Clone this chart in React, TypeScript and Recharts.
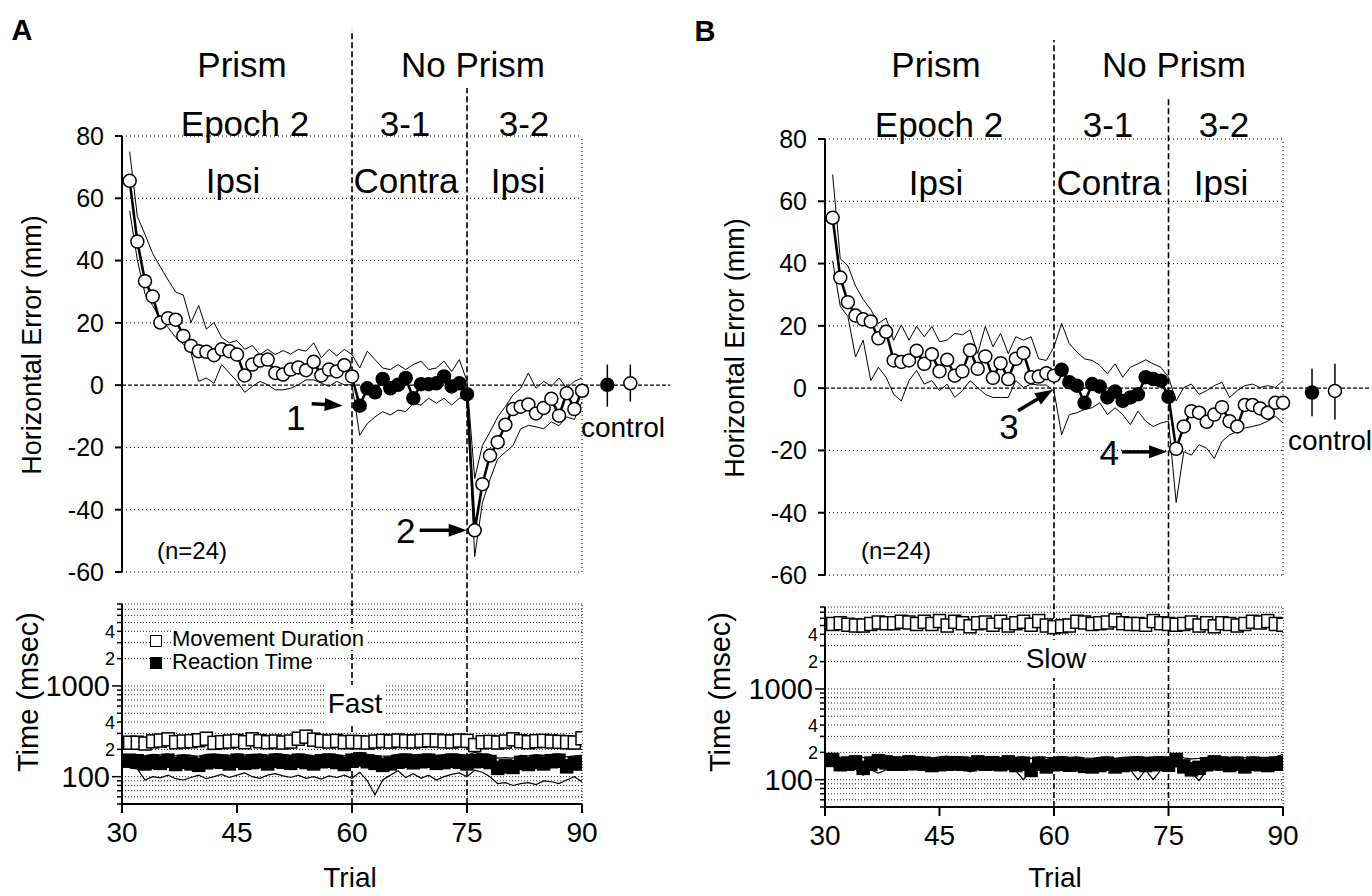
import React from 'react';
import { ComposedChart, Line, XAxis, YAxis, ReferenceLine, ReferenceDot, CartesianGrid } from 'recharts';

const FONT = "'Liberation Sans', Arial, Helvetica, sans-serif";
const H = 896;

const firstTrial = 31;
const errTicks = [-60, -40, -20, 0, 20, 40, 60, 80];
const trialTicks = [30, 45, 60, 75, 90];
const timeTicks = [50, 60, 70, 80, 90, 100, 200, 300, 400, 500, 600, 700, 800, 900, 1000, 2000, 3000, 4000, 5000, 6000, 7000, 8000];
const timeLabels: Record<number, string> = { 100: '100', 200: '2', 400: '4', 1000: '1000', 2000: '2', 4000: '4' };

// ---- Panel A: horizontal error (mm) ----
const errPrismA = [65.6, 46.1, 33.4, 28.5, 20.1, 21.5, 21, 15.8, 12.6, 10.9, 10.7, 9.6, 11.5, 10.9, 9.8, 3.1, 6.6, 7.9, 8.2, 3.9, 3.4, 5, 5.7, 4.8, 7.5, 3.1, 5, 4.4, 6.4, 2.8];
const errContraA = [-6.6, -1, -2.3, 2, -1, 0.1, 2.3, -4.2, 0.3, 0.3, 0.6, 2.8, -0.4, 0.6, -2.9];
const errIpsiA = [-46.6, -31.8, -22.6, -18.3, -12.7, -7.7, -6.9, -6.2, -9.1, -7.3, -4.4, -9.8, -2.6, -7.7, -1.8];
const errUpperA = [
  75, 54.2, 48.4, 42.3, 38, 33.8, 29.9, 28.9, 20.1, 25.6, 18, 20.1, 15.3, 13.6, 14.3, 11.5, 12.7, 9.8, 11.5, 9.8, 11.1, 10, 11.5, 10.9, 13.6, 8.8, 11.5, 9.4, 11.5, 9.8,
  5.5, 10.9, 8.2, 5.5, 5, 6.6, 5, 6.6, 7.7, 5, 5.5, 7.7, 4.4, 8.2, 1.2,
  -30, -19.4, -15, -10.2, -6.9, -3.1, -1, 3.9, -1, 1.2, -0.4, 2.3, -1, 1.2, 2.3,
];
const errLowerA = [
  56, 40.2, 29.3, 25.6, 21.2, 18.5, 15.3, 13.1, 10.4, 1.2, 2.3, 0.6, 6.6, 3.9, 1.2, -2.3, -0.4, 1.2, 0.1, -1.5, -1.5, -1, 0.1, 1.7, 1.7, 0.6, -0.4, 1.2, 0.1, 0.1,
  -16.1, -12.3, -10.2, -8.5, -9.6, -8, -8.5, -5.8, -6.4, -4.2, -5.8, -4.2, -6.4, -4.2, -4.2,
  -55, -37.8, -30.2, -23.7, -21.5, -19.4, -14, -12.9, -13.4, -14, -11.8, -13, -10.2, -11, -5.3,
];
const controlA = [
  { x: 93.3, y: 0.1, hi: 6.6, lo: -6.9, filled: true },
  { x: 96.3, y: 0.6, hi: 6.6, lo: -5.3, filled: false },
];

// ---- Panel A: time (msec) ----
const movementA = [
  237, 237, 232, 245, 250, 258, 240, 244, 246, 252, 262, 236, 240, 244, 248, 240, 258, 246, 240, 244, 238, 244, 262, 276, 256, 248, 244, 248, 240, 242,
  240, 238, 244, 248, 244, 250, 246, 244, 248, 252, 250, 246, 244, 250, 248, 223, 240, 242, 238, 244, 258, 246, 240, 246, 248, 244, 242, 240, 238, 265,
];
const reactionA = [
  150, 148, 140, 145, 142, 150, 138, 146, 140, 135, 144, 148, 146, 140, 150, 142, 145, 148, 140, 150, 146, 142, 150, 145, 140, 148, 150, 145, 138, 150,
  155, 148, 142, 135, 140, 146, 150, 144, 148, 150, 142, 145, 150, 146, 140, 148, 150, 145, 125, 130, 128, 142, 138, 145, 140, 148, 150, 130, 140, 140,
];
const reactionUpperA = [
  175, 172, 170, 176, 174, 178, 170, 175, 172, 168, 176, 178, 175, 172, 178, 174, 176, 178, 172, 180, 176, 172, 178, 175, 170, 176, 178, 175, 170, 178,
  185, 176, 172, 168, 170, 176, 178, 174, 176, 178, 172, 175, 178, 176, 172, 185, 178, 175, 160, 162, 160, 172, 170, 175, 172, 176, 178, 165, 170, 172,
];
const reactionLowerA = [
  124, 122, 92, 100, 97, 104, 95, 92, 98, 104, 95, 100, 106, 98, 104, 110, 100, 96, 104, 108, 102, 98, 104, 96, 100, 94, 102, 98, 104, 96,
  112, 90, 63, 92, 104, 116, 98, 108, 96, 104, 92, 100, 106, 110, 100, 118, 112, 100, 84, 86, 80, 84, 86, 82, 90, 88, 84, 92, 100, 88,
];

// ---- Panel B: horizontal error (mm) ----
const errPrismB = [54.7, 35.5, 27.6, 23.3, 22.1, 21.4, 16, 18.1, 8.9, 8.4, 8.9, 12, 7.8, 10.9, 5.4, 9.1, 4, 5.4, 12.2, 6.2, 10.2, 3.3, 8, 2.9, 9.4, 11.3, 3.5, 3.7, 4.8, 4];
const errContraB = [5.9, 1.9, 0.8, -4.7, 1.3, 0.5, -3, -1.1, -4.1, -3, -2, 3.5, 2.9, 2.4, -2.8];
const errIpsiB = [-19.5, -12.3, -7.4, -7.9, -10.8, -8.5, -6.1, -10.6, -12.3, -5.4, -5.4, -6.5, -7.9, -4.7, -4.7];
const errUpperB = [
  68.6, 41.5, 39.3, 32.8, 28.5, 25.2, 20.8, 22.5, 15.4, 20.3, 15.4, 19.8, 16.5, 19.8, 14.9, 15.4, 17.6, 17.1, 18.7, 11.1, 19.8, 13.3, 17.6, 11.1, 16.5, 15.4, 16.5, 9.4, 8.9, 13.3,
  20.8, 14.3, 11.6, 9.4, 8.9, 7.3, 4.6, 7.8, 3.5, 6.7, 7.8, 9.1, 7.8, 6.7, 3.5,
  -4.1, 0.2, 1.3, -2, -0.8, 0.8, 1.9, -3, -0.8, 0.8, 1.3, 0.2, 0.8, 0.2, 2.4,
];
const errLowerB = [
  40.9, 26.3, 23, 10, 15.4, 2.4, 6.7, 3.5, -2, -4.1, 2.4, 5.7, 1.3, 2.4, -0.8, 1.3, -3, -0.8, 2.4, 0.2, -2, -3, -3, -3, 2.4, 0.2, 1.3, 1, 1, -1,
  -15, -8.5, -7.9, -6.8, -6.3, -4.7, -8.5, -6.3, -8.5, -11.7, -7.4, -10.6, -12.3, -11.2, -10.6,
  -36.7, -20.4, -21.5, -18.2, -19.3, -22.6, -17.1, -15, -13.9, -12.8, -12.3, -11.7, -10.6, -9, -11.2,
];
const controlB = [
  { x: 93.8, y: -1.4, hi: 6.2, lo: -9, filled: true },
  { x: 96.8, y: -0.9, hi: 7.8, lo: -10.1, filled: false },
];

// ---- Panel B: time (msec) ----
const movementB = [
  5200, 5300, 5100, 5000, 5000, 5200, 5400, 5300, 5300, 5500, 5400, 5200, 5500, 5200, 5600, 5000, 5500, 5300, 4900, 5300, 5400, 5100, 5500, 5000, 5300, 5500, 5100, 5600, 5000, 4800,
  4900, 5000, 5500, 5400, 5200, 5300, 5400, 5700, 5300, 5200, 5200, 5100, 5600, 5300, 5200, 5100, 5200, 5400, 5000, 5300, 4900, 5300, 5200, 5000, 5200, 5500, 5400, 5600, 5200, 5100,
];
const reactionB = [
  165, 148, 150, 155, 135, 150, 160, 155, 150, 150, 155, 152, 150, 145, 148, 150, 152, 150, 148, 155, 150, 152, 148, 155, 145, 150, 128, 150, 140, 148,
  150, 146, 148, 142, 140, 145, 150, 140, 145, 148, 150, 145, 148, 150, 146, 165, 140, 130, 135, 148, 155, 150, 145, 150, 140, 150, 148, 145, 150, 152,
];
const reactionUpperB = [
  180, 176, 178, 182, 175, 178, 184, 180, 178, 176, 180, 178, 176, 174, 178, 182, 176, 178, 175, 180, 178, 176, 174, 180, 176, 178, 172, 178, 175, 176,
  180, 176, 178, 174, 172, 176, 178, 172, 176, 178, 180, 176, 178, 180, 176, 188, 174, 170, 172, 176, 180, 178, 176, 178, 174, 178, 176, 176, 178, 190,
];
const reactionLowerB = [
  140, 135, 130, 130, 112, 128, 118, 128, 132, 130, 128, 130, 132, 125, 128, 130, 128, 132, 122, 128, 130, 128, 126, 130, 125, 100, 128, 130, 126, 130,
  132, 128, 126, 128, 130, 126, 128, 126, 130, 128, 100, 128, 100, 128, 130, 140, 128, 120, 98, 126, 128, 130, 132, 130, 126, 128, 130, 132, 130, 140,
];

function buildErrorRows(prism: number[], contra: number[], ipsi: number[], up: number[], lo: number[]) {
  const mean = [...prism, ...contra, ...ipsi];
  return mean.map((m, i) => {
    const noPrism31 = i >= prism.length && i < prism.length + contra.length;
    return { trial: firstTrial + i, mean: m, open: noPrism31 ? null : m, filled: noPrism31 ? m : null, up: up[i], lo: lo[i] };
  });
}

function buildTimeRows(md: number[], rt: number[], rtUp: number[], rtLo: number[]) {
  return md.map((v, i) => ({ trial: firstTrial + i, md: v, rt: rt[i], rtUp: rtUp[i], rtLo: rtLo[i] }));
}

type Arrow = { x: number; y: number; label: string; tip: number[]; tail: number[]; num: number[] };

const panels = [
  {
    name: 'A',
    errRows: buildErrorRows(errPrismA, errContraA, errIpsiA, errUpperA, errLowerA),
    timeRows: buildTimeRows(movementA, reactionA, reactionUpperA, reactionLowerA),
    controls: controlA,
    arrows: [
      { x: 61, y: -6.6, label: '1', tip: [-17, 0], tail: [-31, -2], num: [-64, 12] },
      { x: 76, y: -46.6, label: '2', tip: [-8, 0], tail: [-47, 0], num: [-69, 0] },
    ] as Arrow[],
    lay: { left: 0, width: 700, errTop: 136, errBottom: 572, errRight: 29.8, timeTop: 604, timeBottom: 804, timeRight: 118, dividerTops: [114, 95.4] },
    texts: [
      { t: 'Prism', x: 242, y: 64 }, { t: 'Epoch 2', x: 245, y: 123 }, { t: 'No Prism', x: 473, y: 64 },
      { t: '3-1', x: 405, y: 123 }, { t: '3-2', x: 524, y: 123 }, { t: 'Ipsi', x: 233, y: 180 },
      { t: 'Contra', x: 406, y: 180 }, { t: 'Ipsi', x: 518, y: 180 },
    ],
    letter: { x: 22, y: 30 }, errTitle: { x: 32, y: 345 }, n: { x: 192, y: 551 }, control: { x: 623, y: 428 },
    timeTitle: { x: 28, y: 692 }, trial: { x: 350, y: 878 }, speed: { t: 'Fast', x: 355, y: 704 }, legend: true,
  },
  {
    name: 'B',
    errRows: buildErrorRows(errPrismB, errContraB, errIpsiB, errUpperB, errLowerB),
    timeRows: buildTimeRows(movementB, reactionB, reactionUpperB, reactionLowerB),
    controls: controlB,
    arrows: [
      { x: 60, y: 4, label: '3', tip: [-1, 14], tail: [-35, 21], num: [-45, 51] },
      { x: 76, y: -19.5, label: '4', tip: [-9, 3], tail: [-45, 0], num: [-67, 4] },
    ] as Arrow[],
    lay: { left: 703, width: 669, errTop: 139, errBottom: 575, errRight: 1.2, timeTop: 607, timeBottom: 807, timeRight: 89, dividerTops: [111.8, 93.5] },
    texts: [
      { t: 'Prism', x: 936, y: 64 }, { t: 'Epoch 2', x: 939, y: 124 }, { t: 'No Prism', x: 1174, y: 64 },
      { t: '3-1', x: 1108, y: 124 }, { t: '3-2', x: 1224, y: 124 }, { t: 'Ipsi', x: 936, y: 182 },
      { t: 'Contra', x: 1109, y: 182 }, { t: 'Ipsi', x: 1221, y: 182 },
    ],
    letter: { x: 705, y: 31 }, errTitle: { x: 735, y: 348 }, n: { x: 896, y: 551 }, control: { x: 1330, y: 441 },
    timeTitle: { x: 720, y: 692 }, trial: { x: 1055, y: 878 }, speed: { t: 'Slow', x: 1056, y: 659 }, legend: false,
  },
];

function arrowShape(a: Arrow) {
  return (p: any) => {
    const tx = p.cx + a.tip[0];
    const ty = p.cy + a.tip[1];
    const sx = tx + a.tail[0];
    const sy = ty + a.tail[1];
    const len = Math.hypot(tx - sx, ty - sy);
    const ux = (tx - sx) / len;
    const uy = (ty - sy) / len;
    const hl = 18;
    const hw = 6.5;
    const bx = tx - ux * hl;
    const by = ty - uy * hl;
    return (
      <g>
        <line x1={sx} y1={sy} x2={bx + ux} y2={by + uy} stroke="#000" strokeWidth={3.5} />
        <polygon points={`${tx},${ty} ${bx - uy * hw},${by + ux * hw} ${bx + uy * hw},${by - ux * hw}`} fill="#000" />
        <text x={p.cx + a.num[0]} y={p.cy + a.num[1]} dy="0.36em" textAnchor="middle" fontSize={35} fontFamily={FONT} fill="#000">
          {a.label}
        </text>
      </g>
    );
  };
}

function TimeTick({ x, y, payload }: any) {
  const v = payload.value;
  const label = timeLabels[v];
  const major = v === 100 || v === 1000;
  const len = major ? 10 : 5;
  return (
    <g>
      <line x1={x - len} y1={y} x2={x} y2={y} stroke="#000" strokeWidth={1.5} />
      {label && (
        <text x={x - len - 2} y={y} dy="0.36em" textAnchor="end" fontSize={major ? 29 : 18} fontFamily={FONT} fill="#000">
          {label}
        </text>
      )}
    </g>
  );
}

const squareDot = (fill: string) => (p: any) => (
  <rect key={`sq-${fill}-${p.index}`} x={p.cx - 6} y={p.cy - 6.5} width={12} height={13} fill={fill} stroke="#000" strokeWidth={1.5} />
);

function ErrorChart({ panel }: any) {
  const { lay, errRows, controls, arrows } = panel;
  return (
    <div style={{ position: 'absolute', left: lay.left, top: 0 }}>
      <ComposedChart width={lay.width} height={H} data={errRows}
        margin={{ top: lay.errTop, right: lay.errRight, bottom: H - lay.errBottom, left: 0 }}>
        <XAxis type="number" dataKey="trial" domain={[30, 101.5]} hide allowDataOverflow />
        <YAxis type="number" domain={[-60, 80]} ticks={errTicks} interval={0} width={122} allowDataOverflow
          axisLine={{ stroke: '#000', strokeWidth: 2 }} tickLine={{ stroke: '#000', strokeWidth: 2 }}
          tickSize={7} tickMargin={11} tick={{ fill: '#000', fontSize: 25, fontFamily: FONT }} />
        {errTicks.map((v) => (
          <ReferenceLine key={`g${v}`} ifOverflow="visible"
            segment={[{ x: 30, y: v }, { x: v === 0 ? 101.5 : 90, y: v }]}
            stroke="#000" strokeWidth={v === 0 ? 1.3 : 1} strokeDasharray={v === 0 ? '4 2' : '1 3'} />
        ))}
        <ReferenceLine ifOverflow="visible" segment={[{ x: 90, y: -60 }, { x: 90, y: 80 }]} stroke="#000" strokeDasharray="1 3" />
        {[60, 75].map((x, i) => (
          <ReferenceLine key={`d${x}`} ifOverflow="visible" segment={[{ x, y: -71 }, { x, y: lay.dividerTops[i] }]}
            stroke="#000" strokeWidth={1.6} strokeDasharray="6 3" />
        ))}
        <Line dataKey="up" type="linear" stroke="#000" strokeWidth={1} dot={false} isAnimationActive={false} />
        <Line dataKey="lo" type="linear" stroke="#000" strokeWidth={1} dot={false} isAnimationActive={false} />
        <Line dataKey="mean" type="linear" stroke="#000" strokeWidth={2.6} dot={false} isAnimationActive={false} />
        <Line dataKey="open" stroke="none" isAnimationActive={false}
          dot={{ r: 6.5, fill: '#fff', stroke: '#000', strokeWidth: 1.5 }} />
        <Line dataKey="filled" stroke="none" isAnimationActive={false}
          dot={{ r: 6.5, fill: '#000', stroke: '#000', strokeWidth: 1.5 }} />
        {controls.map((c: any) => (
          <ReferenceLine key={`cb${c.x}`} ifOverflow="visible" segment={[{ x: c.x, y: c.lo }, { x: c.x, y: c.hi }]} stroke="#000" strokeWidth={1.5} />
        ))}
        {controls.map((c: any) => (
          <ReferenceDot key={`cd${c.x}`} ifOverflow="visible" x={c.x} y={c.y} r={6.5}
            fill={c.filled ? '#000' : '#fff'} stroke="#000" strokeWidth={1.5} />
        ))}
        {arrows.map((a: Arrow) => (
          <ReferenceDot key={`a${a.label}`} ifOverflow="visible" x={a.x} y={a.y} shape={arrowShape(a)} />
        ))}
      </ComposedChart>
    </div>
  );
}

function TimeChart({ panel }: any) {
  const { lay, timeRows } = panel;
  return (
    <div style={{ position: 'absolute', left: lay.left, top: 0 }}>
      <ComposedChart width={lay.width} height={H} data={timeRows}
        margin={{ top: lay.timeTop, right: lay.timeRight, bottom: H - lay.timeBottom - 40, left: 0 }}>
        <CartesianGrid vertical={false} stroke="#222" strokeDasharray="1 2" />
        <XAxis type="number" dataKey="trial" domain={[30, 90]} ticks={trialTicks} interval={0} height={40} allowDataOverflow
          axisLine={{ stroke: '#000', strokeWidth: 2 }} tickLine={{ stroke: '#000', strokeWidth: 2 }}
          tickSize={9} tickMargin={9} tick={{ fill: '#000', fontSize: 28, fontFamily: FONT }} />
        <YAxis type="number" scale="log" domain={[50, 8000]} ticks={timeTicks} interval={0} width={122} allowDataOverflow
          axisLine={{ stroke: '#000', strokeWidth: 2 }} tickLine={false} tickSize={0} tickMargin={0}
          tick={(p: any) => <TimeTick {...p} />} />
        <ReferenceLine x={90} stroke="#000" strokeDasharray="1 2" />
        <ReferenceLine x={60} stroke="#000" strokeWidth={1.6} strokeDasharray="6 3" />
        <ReferenceLine x={75} stroke="#000" strokeWidth={1.6} strokeDasharray="6 3" />
        <Line dataKey="rtLo" type="linear" stroke="#000" strokeWidth={1.2} dot={false} isAnimationActive={false} />
        <Line dataKey="rtUp" type="linear" stroke="#000" strokeWidth={1.2} dot={false} isAnimationActive={false} />
        <Line dataKey="md" stroke="none" dot={squareDot('#fff')} isAnimationActive={false} />
        <Line dataKey="rt" stroke="none" dot={squareDot('#000')} isAnimationActive={false} />
      </ComposedChart>
    </div>
  );
}

function Txt({ x, y, size, children, bold, bg, rotate }: any) {
  return (
    <div
      style={{
        position: 'absolute', left: x, top: y,
        transform: `translate(-50%, -50%)${rotate ? ' rotate(-90deg)' : ''}`,
        fontSize: size, lineHeight: 1, fontFamily: FONT, fontWeight: bold ? 700 : 400,
        whiteSpace: 'nowrap', color: '#000', background: bg ? '#fff' : 'transparent', padding: bg ? '5px 3px' : 0,
      }}
    >
      {children}
    </div>
  );
}

function Legend() {
  const sq = (fill: string, y: number) => (
    <div style={{ position: 'absolute', left: 150, top: y - 6, width: 10, height: 10, border: '1.5px solid #000', background: fill }} />
  );
  const label = (t: string, y: number) => (
    <div style={{ position: 'absolute', left: 172, top: y - 11, fontSize: 22, lineHeight: '22px', fontFamily: FONT, background: '#fff', whiteSpace: 'nowrap', paddingRight: 2 }}>
      {t}
    </div>
  );
  return (
    <>
      {sq('#fff', 641)}
      {label('Movement Duration', 639)}
      {sq('#000', 663)}
      {label('Reaction Time', 662)}
    </>
  );
}

export default function App() {
  return (
    <div style={{ position: 'absolute', left: 0, top: 0, width: 1372, height: 896, overflow: 'hidden', background: '#fff', fontFamily: FONT }}>
      {panels.map((p) => (
        <React.Fragment key={p.name}>
          <TimeChart panel={p} />
          <ErrorChart panel={p} />
          <Txt x={p.letter.x} y={p.letter.y} size={29} bold>{p.name}</Txt>
          {p.texts.map((t, i) => (
            <Txt key={i} x={t.x} y={t.y} size={35}>{t.t}</Txt>
          ))}
          <Txt x={p.errTitle.x} y={p.errTitle.y} size={27} rotate>Horizontal Error (mm)</Txt>
          <Txt x={p.n.x} y={p.n.y} size={24}>(n=24)</Txt>
          <Txt x={p.control.x} y={p.control.y} size={28}>control</Txt>
          <Txt x={p.timeTitle.x} y={p.timeTitle.y} size={29} rotate>Time (msec)</Txt>
          <Txt x={p.trial.x} y={p.trial.y} size={28}>Trial</Txt>
          <Txt x={p.speed.x} y={p.speed.y} size={28} bg>{p.speed.t}</Txt>
          {p.legend && <Legend />}
        </React.Fragment>
      ))}
    </div>
  );
}
